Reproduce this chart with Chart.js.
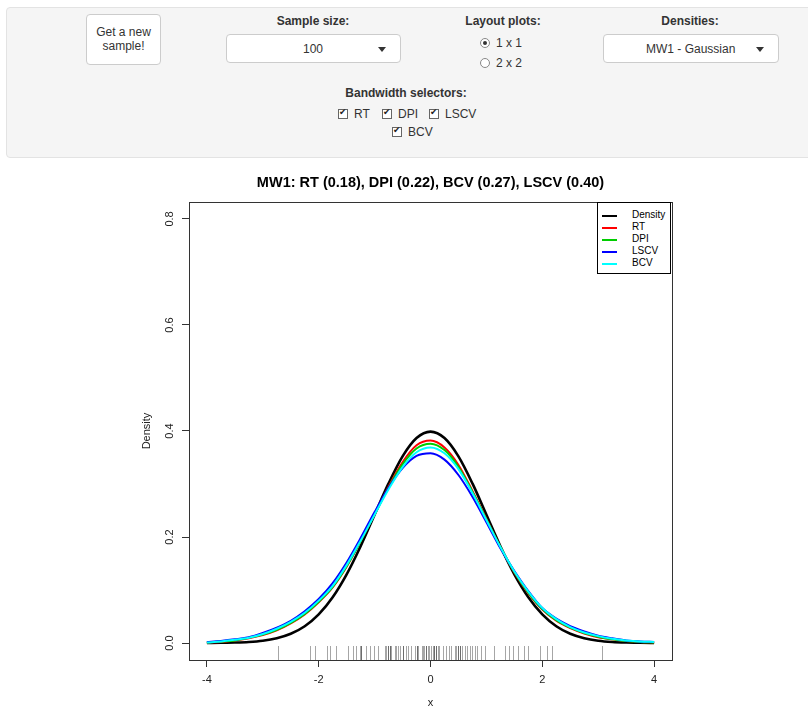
<!DOCTYPE html>
<html>
<head>
<meta charset="utf-8">
<script src="https://cdn.jsdelivr.net/npm/chart.js@4.4.1/dist/chart.umd.min.js"></script>
<style>
  html, body { margin: 0; padding: 0; background: #fff; overflow: hidden; width: 808px; height: 706px; }
  body { font-family: "Liberation Sans", Arial, Helvetica, sans-serif; color: #333; position: relative; }
  .well { position: absolute; left: 6px; top: 7px; width: 810px; height: 149px; background: #f5f5f5;
          border: 1px solid #e3e3e3; border-radius: 4px; }
  .lbl { position: absolute; font-size: 12px; font-weight: bold; color: #333; transform: translateX(-50%); white-space: nowrap; }
  .btn { position: absolute; left: 86px; top: 14px; width: 75px; height: 51px; background: #fff; border: 1px solid #ccc;
         border-radius: 4px; font-size: 12px; line-height: 14px; text-align: center; color: #333; box-sizing: border-box; padding-top: 10px; }
  .sel { position: absolute; background: #fff; border: 1px solid #ccc; border-radius: 4px; box-sizing: border-box; height: 29px; }
  .sel span { position: absolute; top: 7px; font-size: 12px; color: #333; white-space: nowrap; }
  .arrow { position: absolute; top: 12px; width: 0; height: 0; border-left: 4px solid transparent; border-right: 4px solid transparent; border-top: 5px solid #333; }
  .opt { position: absolute; font-size: 12px; color: #333; white-space: nowrap; }
  .radio { display: inline-block; width: 8px; height: 8px; border: 1px solid #888; border-radius: 50%; background: #fff; position: relative; vertical-align: -1px; margin-right: 6px; }
  .radio.on::after { content: ""; position: absolute; left: 2px; top: 2px; width: 4px; height: 4px; border-radius: 50%; background: #333; }
  .chk { display: inline-block; width: 8px; height: 8px; border: 1px solid #666; background: #fff; position: relative; vertical-align: -1px; margin-right: 6px; }
  .chk::after { content: "\2714"; position: absolute; left: 0px; top: -3px; font-size: 9px; color: #222; font-family: "DejaVu Sans", sans-serif; }
  #plotWrap { position: absolute; left: 100px; top: 165px; width: 660px; height: 545px; }
  .legend { position: absolute; left: 597px; top: 202px; width: 74px; height: 72px; box-sizing: border-box; border: 1px solid #000; background: #fff; }
  .legend div { position: absolute; left: 0; font-size: 10px; line-height: 12px; color: #000; }
  .legend i { position: absolute; left: 4px; top: 6px; width: 15px; height: 0; border-top: 2px solid #000; }
  .legend b { position: absolute; left: 34px; top: 0; font-weight: normal; white-space: nowrap; }
</style>
</head>
<body>
<div class="well"></div>
<div class="btn">Get a new<br>sample!</div>

<div class="lbl" style="left:313px; top:14px;">Sample size:</div>
<div class="sel" style="left:226px; top:34px; width:175px;"><span style="left:76px;">100</span><div class="arrow" style="left:151px;"></div></div>

<div class="lbl" style="left:503px; top:14px;">Layout plots:</div>
<div class="opt" style="left:480px; top:36px;"><span class="radio on"></span>1 x 1</div>
<div class="opt" style="left:480px; top:56px;"><span class="radio"></span>2 x 2</div>

<div class="lbl" style="left:690px; top:14px;">Densities:</div>
<div class="sel" style="left:603px; top:34px; width:176px;"><span style="left:42px;">MW1 - Gaussian</span><div class="arrow" style="left:152px;"></div></div>

<div class="lbl" style="left:406px; top:86px;">Bandwidth selectors:</div>
<div class="opt" style="left:338px; top:107px;"><span class="chk"></span>RT</div>
<div class="opt" style="left:382px; top:107px;"><span class="chk"></span>DPI</div>
<div class="opt" style="left:429px; top:107px;"><span class="chk"></span>LSCV</div>
<div class="opt" style="left:392px; top:125px;"><span class="chk"></span>BCV</div>

<div id="plotWrap"><canvas id="myChart" width="660" height="545"></canvas></div>

<div class="legend" id="legend"></div>

<script>
//!Data
var xGrid = [-4, -3.75, -3.5, -3.25, -3, -2.75, -2.5, -2.25, -2, -1.75, -1.5, -1.25, -1, -0.75, -0.5, -0.25, 0,
             0.25, 0.5, 0.75, 1, 1.25, 1.5, 1.75, 2, 2.25, 2.5, 2.75, 3, 3.25, 3.5, 3.75, 4];
var densityY = [0.0001, 0.0004, 0.0009, 0.0020, 0.0044, 0.0091, 0.0175, 0.0317, 0.0540, 0.0863, 0.1295, 0.1826, 0.2420,
                0.3011, 0.3521, 0.3867, 0.3989, 0.3867, 0.3521, 0.3011, 0.2420, 0.1826, 0.1295, 0.0863, 0.0540, 0.0317,
                0.0175, 0.0091, 0.0044, 0.0020, 0.0009, 0.0004, 0.0001];
var rtY = [0.001, 0.002, 0.005, 0.009, 0.015, 0.024, 0.037, 0.054, 0.077, 0.105, 0.144, 0.192, 0.243, 0.295, 0.341, 0.373,
           0.382, 0.369, 0.336, 0.287, 0.234, 0.181, 0.133, 0.094, 0.063, 0.042, 0.028, 0.018, 0.011, 0.007, 0.004, 0.002, 0.001];
var dpiY = [0.001, 0.003, 0.005, 0.010, 0.016, 0.025, 0.038, 0.055, 0.078, 0.106, 0.145, 0.192, 0.243, 0.293, 0.337, 0.367,
            0.376, 0.364, 0.332, 0.285, 0.233, 0.181, 0.134, 0.095, 0.064, 0.043, 0.029, 0.019, 0.012, 0.007, 0.004, 0.002, 0.001];
var lscvY = [0.002, 0.004, 0.007, 0.011, 0.019, 0.029, 0.042, 0.060, 0.083, 0.113, 0.152, 0.198, 0.247, 0.293, 0.330, 0.353,
             0.358, 0.346, 0.317, 0.276, 0.228, 0.179, 0.136, 0.098, 0.066, 0.046, 0.032, 0.022, 0.014, 0.009, 0.005, 0.003, 0.002];
var bcvY = [0.001, 0.003, 0.006, 0.010, 0.017, 0.027, 0.040, 0.057, 0.080, 0.108, 0.147, 0.193, 0.242, 0.290, 0.332, 0.360,
            0.369, 0.358, 0.328, 0.283, 0.232, 0.181, 0.135, 0.097, 0.066, 0.045, 0.030, 0.020, 0.013, 0.008, 0.005, 0.003, 0.002];
// sample points shown as a rug
var rugX = [-2.73, -2.16, -2.07, -1.86, -1.80, -1.69, -1.48, -1.38, -1.33, -1.27, -1.24, -1.24, -1.15, -1.09, -1.01, -0.94,
            -0.82, -0.79, -0.76, -0.76, -0.73, -0.73, -0.70, -0.64, -0.61, -0.58, -0.55, -0.49, -0.49, -0.43, -0.40, -0.34,
            -0.28, -0.25, -0.25, -0.22, -0.16, -0.14, -0.12, -0.08, -0.08, -0.05, -0.03, 0.01, 0.04, 0.07, 0.07, 0.10, 0.10,
            0.13, 0.16, 0.22, 0.28, 0.33, 0.37, 0.43, 0.46, 0.49, 0.49, 0.52, 0.52, 0.57, 0.61, 0.65, 0.70, 0.75, 0.79, 0.83,
            0.91, 0.97, 1.13, 1.33, 1.40, 1.47, 1.56, 1.68, 1.74, 1.96, 2.09, 2.18, 3.06];
var xTicks = [-4, -2, 0, 2, 4];
var yTicks = [0, 0.2, 0.4, 0.6, 0.8];
var seriesNames = ["Density", "RT", "DPI", "LSCV", "BCV"];
var seriesColors = ["#000000", "#ff0000", "#00cd00", "#0000ff", "#00ffff"];
var seriesValues = [densityY, rtY, dpiY, lscvY, bcvY];
var titleText = "MW1: RT (0.18), DPI (0.22), BCV (0.27), LSCV (0.40)";

var FONT = "'Liberation Sans', Arial, Helvetica, sans-serif";

//!Legend
var legendEl = document.getElementById("legend");
seriesNames.forEach(function(name, i) {
  var row = document.createElement("div");
  row.style.top = (6 + i * 12) + "px";
  row.style.width = "72px";
  row.innerHTML = '<i style="border-top-color:' + seriesColors[i] + '"></i><b>' + name + '</b>';
  legendEl.appendChild(row);
});

//!Chart
var framePlugin = {
  id: "frame",
  afterDatasetsDraw: function(chart) {
    var ctx = chart.ctx, a = chart.chartArea, xs = chart.scales.x;
    ctx.save();
    // rug
    ctx.strokeStyle = "rgba(0,0,0,0.35)";
    ctx.lineWidth = 1;
    rugX.forEach(function(v) {
      var px = Math.round(xs.getPixelForValue(v)) + 0.5;
      ctx.beginPath();
      ctx.moveTo(px, a.bottom);
      ctx.lineTo(px, a.bottom - 14);
      ctx.stroke();
    });
    // box
    ctx.strokeStyle = "#333";
    ctx.strokeRect(Math.round(a.left) + 0.5, Math.round(a.top) + 0.5, Math.round(a.right - a.left), Math.round(a.bottom - a.top));
    // title centred over the plot region
    ctx.fillStyle = "#000";
    ctx.font = "bold 14.5px " + FONT;
    ctx.textAlign = "center";
    ctx.textBaseline = "middle";
    ctx.fillText(titleText, (a.left + a.right) / 2, a.top - 19);
    // rotated y labels
    var ys = chart.scales.y;
    ctx.fillStyle = "#222";
    ctx.font = "11px " + FONT;
    yTicks.forEach(function(v) {
      var py = ys.getPixelForValue(v);
      ctx.save();
      ctx.translate(a.left - 19, py);
      ctx.rotate(-Math.PI / 2);
      ctx.fillText(v.toFixed(1), 0, 0);
      ctx.restore();
    });
    ctx.restore();
  }
};

var ctx = document.getElementById("myChart").getContext("2d");
var myChart = new Chart(ctx, {
  type: "line",
  data: {
    datasets: seriesNames.map(function(name, i) {
      return {
        label: name,
        data: xGrid.map(function(x, k) { return { x: x, y: seriesValues[i][k] }; }),
        borderColor: seriesColors[i],
        backgroundColor: seriesColors[i],
        borderWidth: i === 0 ? 2.6 : 2,
        pointRadius: 0,
        fill: false,
        cubicInterpolationMode: "monotone",
        order: 5 - i
      };
    })
  },
  options: {
    responsive: false,
    animation: false,
    layout: { padding: { left: 0, right: 88, top: 37, bottom: 0 } },
    plugins: {
      legend: { display: false },
      tooltip: { enabled: false },
      title: { display: false }
    },
    scales: {
      x: {
        type: "linear",
        min: -4.32,
        max: 4.32,
        afterBuildTicks: function(s) { s.ticks = xTicks.map(function(v) { return { value: v }; }); },
        afterFit: function(s) { s.height = 50; },
        grid: { drawOnChartArea: false, drawTicks: true, tickLength: 7, color: "#333" },
        border: { display: true, color: "#333" },
        ticks: { color: "#222", font: { family: FONT, size: 11 }, padding: 6, maxRotation: 0,
                 callback: function(v) { return String(v); } },
        title: { display: true, text: "x", color: "#222", font: { family: FONT, size: 11 }, padding: { top: 0, bottom: 0 } }
      },
      y: {
        type: "linear",
        min: -0.032,
        max: 0.832,
        afterBuildTicks: function(s) { s.ticks = yTicks.map(function(v) { return { value: v }; }); },
        afterFit: function(s) { s.width = 89; },
        grid: { drawOnChartArea: false, drawTicks: true, tickLength: 7, color: "#333" },
        border: { display: true, color: "#333" },
        ticks: { display: false },
        title: { display: true, text: "Density", color: "#222", font: { family: FONT, size: 11 }, padding: { top: 40, bottom: 0 } }
      }
    }
  },
  plugins: [framePlugin]
});
</script>
</body>
</html>
